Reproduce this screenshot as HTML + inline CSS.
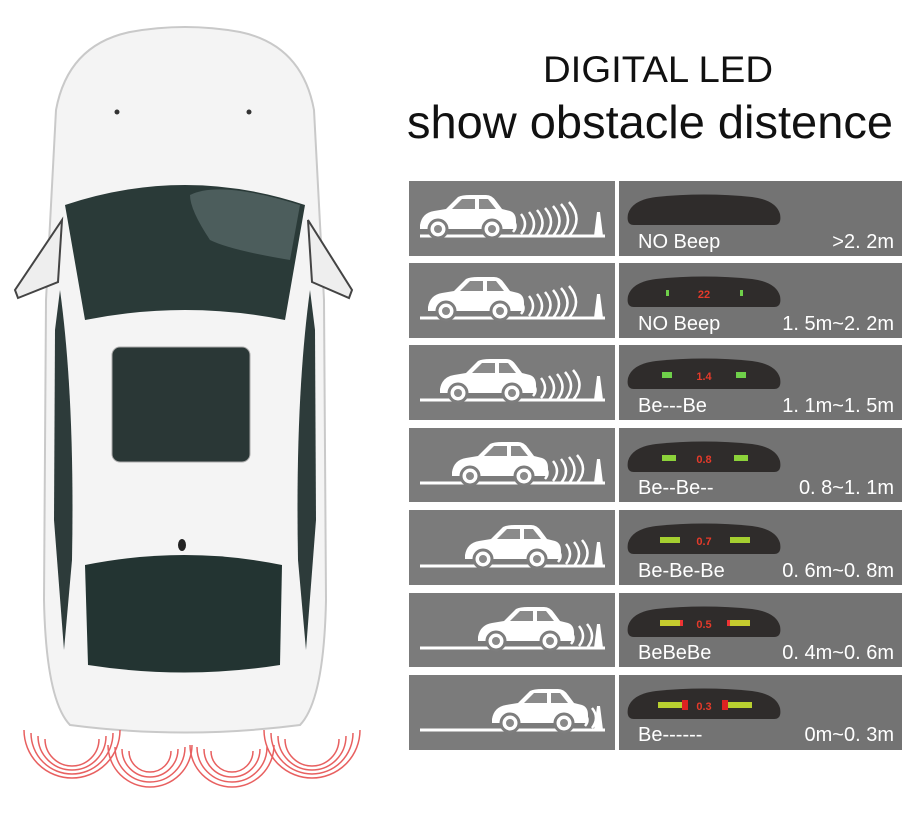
<!DOCTYPE html>
<html><head><meta charset="utf-8"><style>
html,body{margin:0;padding:0;background:#fff;width:908px;height:828px;overflow:hidden}
svg{display:block}
text{font-family:"Liberation Sans",sans-serif}
</style></head><body>
<svg width="908" height="828" viewBox="0 0 908 828" xmlns="http://www.w3.org/2000/svg">
<defs>
<g id="car">
  <path d="M0,30 Q2,18 14,16 L26,14 L38,2 Q42,0 50,0 L66,0 Q72,0 76,6 L82,14 L90,16 Q96,18 96,26 L96,34 L0,34 Z" fill="#fff"/>
  <path d="M32,14 L42,4 L55,4 L55,14 Z M59,4 L68,4 L76,14 L59,14 Z" fill="#8a8a8a"/>
  <circle cx="18" cy="34" r="9" fill="#fff" stroke="#7d7d7d" stroke-width="3"/>
  <circle cx="72" cy="34" r="9" fill="#fff" stroke="#7d7d7d" stroke-width="3"/>
  <circle cx="18" cy="34" r="4" fill="#8a8a8a"/>
  <circle cx="72" cy="34" r="4" fill="#8a8a8a"/>
</g>
<g id="disp">
  <path d="M8,33 Q0,33 2,22 Q6,8 30,5 Q78,0 126,5 Q150,8 154,22 Q156,33 148,33 Z" fill="#2f2c2b"/>
</g>
</defs>

<text x="658" y="82" font-size="37" text-anchor="middle" fill="#111" textLength="230" lengthAdjust="spacingAndGlyphs">DIGITAL LED</text>
<text x="650" y="138" font-size="46" text-anchor="middle" fill="#111" textLength="486" lengthAdjust="spacingAndGlyphs">show obstacle distence</text>

<g>
<rect x="409" y="181" width="206" height="75" fill="#7b7b7b"/><rect x="619" y="181" width="283" height="75" fill="#737373"/>
<rect x="409" y="263" width="206" height="75" fill="#7b7b7b"/><rect x="619" y="263" width="283" height="75" fill="#737373"/>
<rect x="409" y="345" width="206" height="75" fill="#7b7b7b"/><rect x="619" y="345" width="283" height="75" fill="#737373"/>
<rect x="409" y="428" width="206" height="74" fill="#7b7b7b"/><rect x="619" y="428" width="283" height="74" fill="#737373"/>
<rect x="409" y="510" width="206" height="75" fill="#7b7b7b"/><rect x="619" y="510" width="283" height="75" fill="#737373"/>
<rect x="409" y="593" width="206" height="74" fill="#7b7b7b"/><rect x="619" y="593" width="283" height="74" fill="#737373"/>
<rect x="409" y="675" width="206" height="75" fill="#7b7b7b"/><rect x="619" y="675" width="283" height="75" fill="#737373"/>
</g>

<g fill="none" stroke="#fff" stroke-width="3">
  <line x1="420" y1="236" x2="605" y2="236"/><line x1="420" y1="318" x2="605" y2="318"/>
  <line x1="420" y1="400" x2="605" y2="400"/><line x1="420" y1="483" x2="605" y2="483"/>
  <line x1="420" y1="566" x2="605" y2="566"/><line x1="420" y1="648" x2="605" y2="648"/>
  <line x1="420" y1="730" x2="605" y2="730"/>
</g>
<g fill="#fff">
  <path d="M594,236 L597,212 L600,212 L603,236 Z"/><path d="M594,318 L597,294 L600,294 L603,318 Z"/>
  <path d="M594,400 L597,376 L600,376 L603,400 Z"/><path d="M594,483 L597,459 L600,459 L603,483 Z"/>
  <path d="M594,566 L597,542 L600,542 L603,566 Z"/><path d="M594,648 L597,624 L600,624 L603,648 Z"/>
  <path d="M594,730 L597,706 L600,706 L603,730 Z"/>
</g>
<use href="#car" x="420" y="195"/>
<use href="#car" x="428" y="277"/>
<use href="#car" x="440" y="359"/>
<use href="#car" x="452" y="442"/>
<use href="#car" x="465" y="525"/>
<use href="#car" x="478" y="607"/>
<use href="#car" x="492" y="689"/>
<g fill="none" stroke="#fff" stroke-width="2.5">
  <path d="M513,220 q5,6 0,12 M521,214 q8,10 0,20 M529,212 q10,12 0,24 M537,210 q11,13 0,26 M545,208 q12,14 0,28 M553,206 q13,15 0,30 M561,204 q14,16 0,32 M569,202 q15,17 0,34"/>
  <path d="M521,302 q5,6 0,12 M529,296 q8,10 0,20 M537,294 q10,12 0,24 M545,292 q11,13 0,26 M553,290 q12,14 0,28 M561,288 q13,15 0,30 M569,286 q14,16 0,32"/>
  <path d="M533,384 q5,6 0,12 M541,378 q8,10 0,20 M549,376 q10,12 0,24 M557,374 q11,13 0,26 M565,372 q12,14 0,28 M573,370 q13,15 0,30"/>
  <path d="M545,467 q5,6 0,12 M553,461 q8,10 0,20 M561,459 q10,12 0,24 M569,457 q11,13 0,26 M577,455 q12,14 0,28"/>
  <path d="M558,550 q5,6 0,12 M566,544 q8,10 0,20 M574,542 q10,12 0,24 M582,540 q11,13 0,26"/>
  <path d="M571,632 q5,6 0,12 M579,626 q8,10 0,20 M587,624 q10,12 0,24"/>
  <path d="M585,714 q5,6 0,12 M592,708 q8,10 0,20"/>
</g>

<use href="#disp" x="626" y="192"/>
<use href="#disp" x="626" y="274"/>
<use href="#disp" x="626" y="356"/>
<use href="#disp" x="626" y="439"/>
<use href="#disp" x="626" y="521"/>
<use href="#disp" x="626" y="604"/>
<use href="#disp" x="626" y="686"/>
<g font-family="Liberation Mono" font-weight="bold" fill="#e53a2a" font-size="11" text-anchor="middle">
  <text x="704" y="298">22</text><text x="704" y="380">1.4</text><text x="704" y="463">0.8</text>
  <text x="704" y="545">0.7</text><text x="704" y="628">0.5</text><text x="704" y="710">0.3</text>
</g>
<g>
  <rect x="666" y="290" width="3" height="6" fill="#6fd04a"/><rect x="740" y="290" width="3" height="6" fill="#6fd04a"/>
  <rect x="662" y="372" width="10" height="6" fill="#6fd04a"/><rect x="736" y="372" width="10" height="6" fill="#6fd04a"/>
  <rect x="662" y="455" width="14" height="6" fill="#8cd23a"/><rect x="734" y="455" width="14" height="6" fill="#8cd23a"/>
  <rect x="660" y="537" width="20" height="6" fill="#a5cf30"/><rect x="730" y="537" width="20" height="6" fill="#a5cf30"/>
  <rect x="660" y="620" width="22" height="6" fill="#c5cc2e"/><rect x="728" y="620" width="22" height="6" fill="#c5cc2e"/>
  <rect x="680" y="620" width="3" height="6" fill="#e33"/><rect x="727" y="620" width="3" height="6" fill="#e33"/>
  <rect x="658" y="702" width="24" height="6" fill="#b8d030"/><rect x="728" y="702" width="24" height="6" fill="#b8d030"/>
  <rect x="682" y="700" width="6" height="10" fill="#d22"/><rect x="722" y="700" width="6" height="10" fill="#d22"/>
</g>

<g fill="#fff" font-size="20">
  <text x="638" y="248">NO Beep</text><text x="894" y="248" text-anchor="end">&gt;2. 2m</text>
  <text x="638" y="330">NO Beep</text><text x="894" y="330" text-anchor="end">1. 5m~2. 2m</text>
  <text x="638" y="412">Be---Be</text><text x="894" y="412" text-anchor="end">1. 1m~1. 5m</text>
  <text x="638" y="494">Be--Be--</text><text x="894" y="494" text-anchor="end">0. 8~1. 1m</text>
  <text x="638" y="577">Be-Be-Be</text><text x="894" y="577" text-anchor="end">0. 6m~0. 8m</text>
  <text x="638" y="659">BeBeBe</text><text x="894" y="659" text-anchor="end">0. 4m~0. 6m</text>
  <text x="638" y="741">Be------</text><text x="894" y="741" text-anchor="end">0m~0. 3m</text>
</g>

<g>
  <path d="M130,32 Q185,22 240,32 Q302,45 314,110 L324,300 L326,600 Q324,700 300,725 Q185,740 70,725 Q46,700 44,600 L46,300 L56,110 Q68,45 130,32 Z" fill="#f4f4f4" stroke="#c9c9c9" stroke-width="2"/>
  <path d="M62,220 L15,290 L18,298 L58,282 Z" fill="#eee" stroke="#444" stroke-width="2"/>
  <path d="M308,220 L352,290 L349,298 L312,282 Z" fill="#eee" stroke="#444" stroke-width="2"/>
  <path d="M65,205 Q185,165 305,205 L285,320 Q185,300 85,320 Z" fill="#2a3a38"/>
  <path d="M190,195 Q220,180 300,205 L290,260 Q230,250 210,240 Q190,210 190,195 Z" fill="#4c5d5c"/>
  <path d="M60,290 Q75,400 72,560 L64,650 L54,520 L55,330 Z" fill="#2d3b3a"/>
  <path d="M310,290 Q295,400 298,560 L306,650 L316,520 L315,330 Z" fill="#2d3b3a"/>
  <rect x="112" y="347" width="138" height="115" rx="8" fill="#2a3736" stroke="#aaa" stroke-width="1"/>
  <path d="M85,565 Q185,545 282,565 L280,665 Q185,680 88,665 Z" fill="#233432"/>
  <ellipse cx="182" cy="545" rx="4" ry="6" fill="#222"/>
  <circle cx="117" cy="112" r="2.5" fill="#333"/><circle cx="249" cy="112" r="2.5" fill="#333"/>
</g>

<g fill="none" stroke="#e86060" stroke-width="1.5">
  <path d="M24,730 a48,48 0 0 0 96,0 M31,733 a41,41 0 0 0 82,0 M38,736 a34,34 0 0 0 68,0 M45,739 a27,27 0 0 0 54,0"/>
  <path d="M108,745 a42,42 0 0 0 84,0 M115,747 a35,35 0 0 0 70,0 M122,749 a28,28 0 0 0 56,0 M129,751 a21,21 0 0 0 42,0"/>
  <path d="M190,745 a42,42 0 0 0 84,0 M197,747 a35,35 0 0 0 70,0 M204,749 a28,28 0 0 0 56,0 M211,751 a21,21 0 0 0 42,0"/>
  <path d="M264,730 a48,48 0 0 0 96,0 M271,733 a41,41 0 0 0 82,0 M278,736 a34,34 0 0 0 68,0 M285,739 a27,27 0 0 0 54,0"/>
</g>
</svg>
</body></html>
